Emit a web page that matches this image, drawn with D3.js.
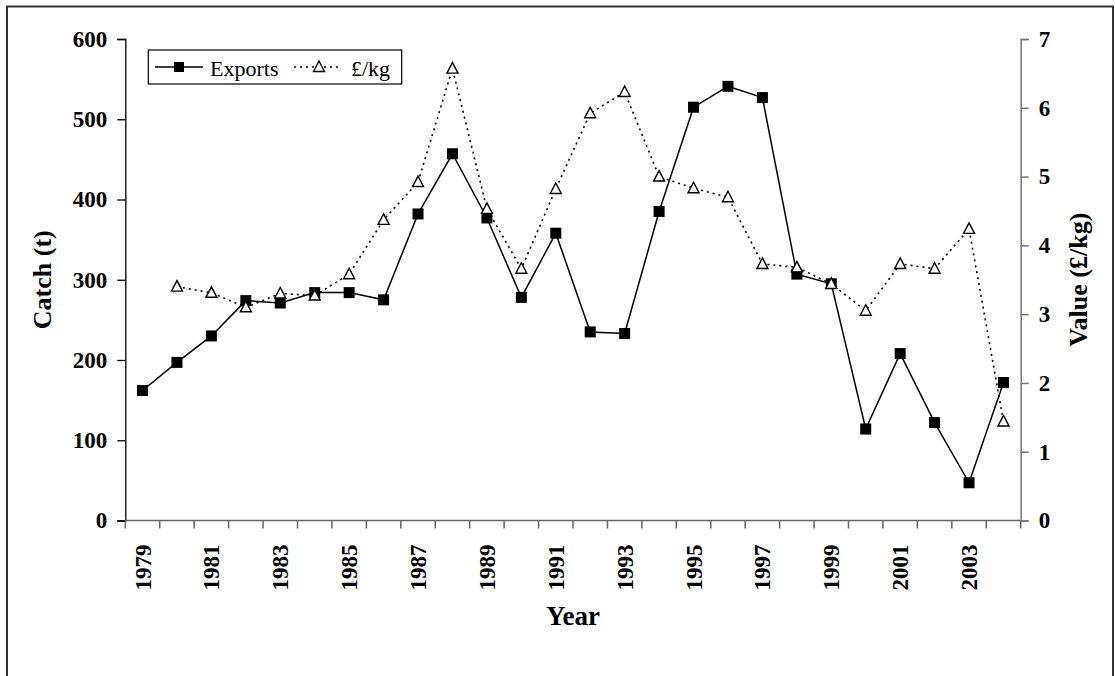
<!DOCTYPE html>
<html>
<head>
<meta charset="utf-8">
<script src="https://cdn.jsdelivr.net/npm/d3@7"></script>
<style>
  html, body { margin: 0; padding: 0; background: #fff; }
  svg { display: block; }
  text { font-family: "Liberation Serif", "Times New Roman", serif; }
</style>
</head>
<body>
<svg id="chart" width="1115" height="676"></svg>
<script>
const years = [1979,1980,1981,1982,1983,1984,1985,1986,1987,1988,1989,1990,1991,1992,1993,1994,1995,1996,1997,1998,1999,2000,2001,2002,2003,2004];
const exportsCatch = [162,197,230,274,271,284,284,275,382,457,377,278,358,235,233,385,515,541,527,307,295,114,208,122,47,172];
const pricePerKg = [null,3.40,3.31,3.10,3.30,3.27,3.58,4.37,4.92,6.57,4.53,3.66,4.82,5.92,6.23,5.00,4.83,4.70,3.73,3.68,3.44,3.05,3.73,3.66,4.24,1.44];
const leftTicks = [0,100,200,300,400,500,600];
const rightTicks = [0,1,2,3,4,5,6,7];
const yearLabels = [1979,1981,1983,1985,1987,1989,1991,1993,1995,1997,1999,2001,2003];
const seriesNames = ["Exports", "£/kg"];

const svg = d3.select("#chart");
const L = 125.3, R = 1020.7, T = 39, B = 520.5;

// outer border
svg.append("rect").attr("x", 7).attr("y", 6.5).attr("width", 1106).attr("height", 700)
  .attr("fill", "none").attr("stroke", "#333").attr("stroke-width", 2);

const x = d3.scaleBand().domain(years).range([L, R]).paddingInner(0).paddingOuter(0);
const yL = d3.scaleLinear().domain([0, 600]).range([B, T]);
const yR = d3.scaleLinear().domain([0, 7]).range([B, T]);
const cx = d => x(d) + x.bandwidth() / 2;

// left axis
const gL = svg.append("g").attr("transform", `translate(${L},0)`)
  .call(d3.axisLeft(yL).tickValues(leftTicks).tickSize(8).tickPadding(10).tickFormat(d3.format("d")));
gL.select(".domain").attr("stroke", "#000").attr("stroke-width", 1.3);
gL.selectAll(".tick line").attr("stroke", "#000").attr("stroke-width", 1.3);
gL.selectAll(".tick text").attr("font-size", 23).attr("font-weight", "bold").attr("fill", "#000")
  .attr("font-family", "Liberation Serif");

// right axis
const gR = svg.append("g").attr("transform", `translate(${R},0)`)
  .call(d3.axisRight(yR).tickValues(rightTicks).tickSize(8).tickPadding(10).tickFormat(d3.format("d")));
gR.select(".domain").attr("stroke", "#777").attr("stroke-width", 1.5);
gR.selectAll(".tick line").attr("stroke", "#777").attr("stroke-width", 1.5);
gR.selectAll(".tick text").attr("font-size", 23).attr("font-weight", "bold").attr("fill", "#000")
  .attr("font-family", "Liberation Serif");

// x axis
const gX = svg.append("g").attr("transform", `translate(0,${B})`);
gX.append("line").attr("x1", L).attr("x2", R).attr("y1", 0).attr("y2", 0)
  .attr("stroke", "#666").attr("stroke-width", 1.5);
const bounds = years.map(d => x(d)).concat([x.range()[1]]);
gX.selectAll("line.tk").data(bounds).enter().append("line").attr("class", "tk")
  .attr("x1", d => d).attr("x2", d => d).attr("y1", 0).attr("y2", 8)
  .attr("stroke", "#666").attr("stroke-width", 1.5);
gX.selectAll("text.yl").data(yearLabels).enter().append("text").attr("class", "yl")
  .attr("transform", d => `translate(${cx(d) + 8},${24}) rotate(-90)`)
  .attr("text-anchor", "end")
  .attr("font-size", 23).attr("font-weight", "bold").attr("fill", "#000")
  .text(d => d);

// axis titles
svg.append("text").attr("transform", `translate(51,${(T + B) / 2}) rotate(-90)`)
  .attr("text-anchor", "middle").attr("font-size", 26).attr("font-weight", "bold").text("Catch (t)");
svg.append("text").attr("transform", `translate(1087,${(T + B) / 2}) rotate(-90)`)
  .attr("text-anchor", "middle").attr("font-size", 26).attr("font-weight", "bold").text("Value (£/kg)");
svg.append("text").attr("x", (L + R) / 2).attr("y", 625)
  .attr("text-anchor", "middle").attr("font-size", 27).attr("font-weight", "bold").text("Year");

// series lines
const lineL = d3.line().defined(d => d.v != null).x(d => cx(d.year)).y(d => yL(d.v));
const lineR = d3.line().defined(d => d.v != null).x(d => cx(d.year)).y(d => yR(d.v));
const dataE = years.map((y, i) => ({ year: y, v: exportsCatch[i] }));
const dataP = years.map((y, i) => ({ year: y, v: pricePerKg[i] }));

svg.append("path").datum(dataP).attr("d", lineR).attr("fill", "none")
  .attr("stroke", "#000").attr("stroke-width", 1.6).attr("stroke-dasharray", "2,4");
svg.append("path").datum(dataE).attr("d", lineL).attr("fill", "none")
  .attr("stroke", "#000").attr("stroke-width", 1.5);

const sq = 11;
svg.selectAll("rect.sq").data(dataE).enter().append("rect").attr("class", "sq")
  .attr("x", d => cx(d.year) - sq / 2).attr("y", d => yL(d.v) - sq / 2)
  .attr("width", sq).attr("height", sq).attr("fill", "#000");

const tri = (px, py) => `M${px},${py - 6} L${px + 5.5},${py + 4.5} L${px - 5.5},${py + 4.5} Z`;
svg.selectAll("path.tri").data(dataP.filter(d => d.v != null)).enter().append("path").attr("class", "tri")
  .attr("d", d => tri(cx(d.year), yR(d.v))).attr("fill", "#fff").attr("stroke", "#000").attr("stroke-width", 1.4);

// legend
const lg = svg.append("g");
lg.append("rect").attr("x", 148.3).attr("y", 50).attr("width", 253.4).attr("height", 34)
  .attr("fill", "#fff").attr("stroke", "#000").attr("stroke-width", 1.2);
lg.append("line").attr("x1", 155).attr("x2", 203).attr("y1", 67).attr("y2", 67)
  .attr("stroke", "#000").attr("stroke-width", 1.5);
lg.append("rect").attr("x", 179 - 5).attr("y", 67 - 5).attr("width", 10).attr("height", 10).attr("fill", "#000");
lg.append("text").attr("x", 210).attr("y", 76).attr("font-size", 22).text(seriesNames[0]);
lg.append("line").attr("x1", 294).attr("x2", 342).attr("y1", 67).attr("y2", 67)
  .attr("stroke", "#000").attr("stroke-width", 1.6).attr("stroke-dasharray", "2,4");
lg.append("path").attr("d", tri(319, 67)).attr("fill", "#fff").attr("stroke", "#000").attr("stroke-width", 1.4);
lg.append("text").attr("x", 351).attr("y", 76).attr("font-size", 22).text(seriesNames[1]);
</script>
</body>
</html>
